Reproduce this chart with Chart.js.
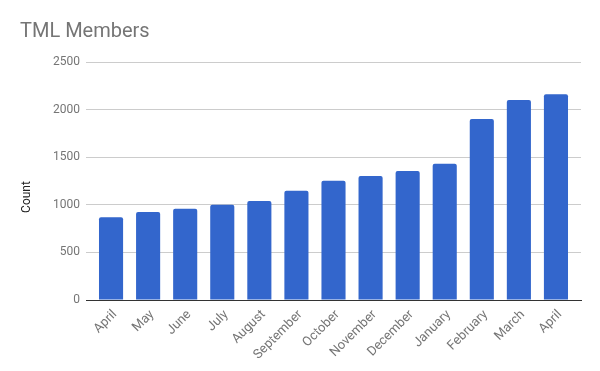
<!DOCTYPE html>
<html>
<head>
<meta charset="utf-8">
<script src="https://cdn.jsdelivr.net/npm/chart.js@4"></script>
<style>
  html, body { margin: 0; padding: 0; background: #fff; }
  #wrap { width: 600px; height: 371px; }
</style>
</head>
<body>
<div id="wrap"><canvas id="grafico" width="600" height="371"></canvas></div>
<script>
// Datos del gráfico
const meses = ['April', 'May', 'June', 'July', 'August', 'September', 'October',
               'November', 'December', 'January', 'February', 'March', 'April'];
const miembros = [870, 925, 958, 1000, 1040, 1148, 1252, 1303, 1356, 1430, 1900, 2100, 2162];
const ticksY = [0, 500, 1000, 1500, 2000, 2500];

// Google Sheets deja un margen a los lados de las barras
const margenBarras = {
    id: 'margenBarras',
    afterLayout(chart) {
        const x = chart.scales.x;
        x._startPixel += 6.5;
        x._endPixel -= 6.5;
        x._length = x._endPixel - x._startPixel;
    }
};

// Título del eje Y, un poco más abajo que el centro del área
const tituloEjeY = {
    id: 'tituloEjeY',
    afterDraw(chart) {
        const c = chart.ctx;
        c.save();
        c.translate(27, chart.chartArea.top + 135);
        c.rotate(-Math.PI / 2);
        c.font = '12px Roboto';
        c.fillStyle = '#222';
        c.textAlign = 'center';
        c.textBaseline = 'middle';
        c.fillText('Count', 0, 0);
        c.restore();
    }
};

const ctx = document.getElementById('grafico').getContext('2d');
new Chart(ctx, {
    type: 'bar',
    data: {
        labels: meses,
        datasets: [{
            label: 'Count',
            data: miembros,
            backgroundColor: '#3366cc',
            borderRadius: 2,
            borderSkipped: 'bottom',
            categoryPercentage: 1,
            barPercentage: 0.65
        }]
    },
    options: {
        responsive: false,
        animation: false,
        layout: { padding: { left: 20, right: 19, top: 0, bottom: 0 } },
        plugins: {
            legend: { display: false },
            tooltip: { enabled: false },
            title: {
                display: true,
                text: 'TML Members',
                align: 'start',
                color: '#757575',
                font: { family: 'Roboto', size: 20, weight: 'normal' },
                padding: { top: 20, bottom: 18 }
            }
        },
        scales: {
            x: {
                grid: { display: false, drawTicks: false },
                border: { color: '#333', width: 1 },
                ticks: {
                    color: '#757575',
                    font: { family: 'Roboto', size: 13 },
                    minRotation: 45,
                    maxRotation: 45,
                    padding: 7,
                    labelOffset: 4,
                    autoSkip: false
                },
                afterFit: (scale) => { scale.height = 71; }
            },
            y: {
                min: 0,
                max: 2500,
                afterBuildTicks: (scale) => { scale.ticks = ticksY.map(v => ({ value: v })); },
                grid: { color: '#cccccc', drawTicks: false },
                border: { display: false },
                ticks: {
                    color: '#757575',
                    font: { family: 'Roboto', size: 12 },
                    padding: 6,
                    callback: (v) => String(v)
                },
                afterFit: (scale) => { scale.width = 66; }
            }
        }
    },
    plugins: [margenBarras, tituloEjeY]
});
</script>
</body>
</html>
